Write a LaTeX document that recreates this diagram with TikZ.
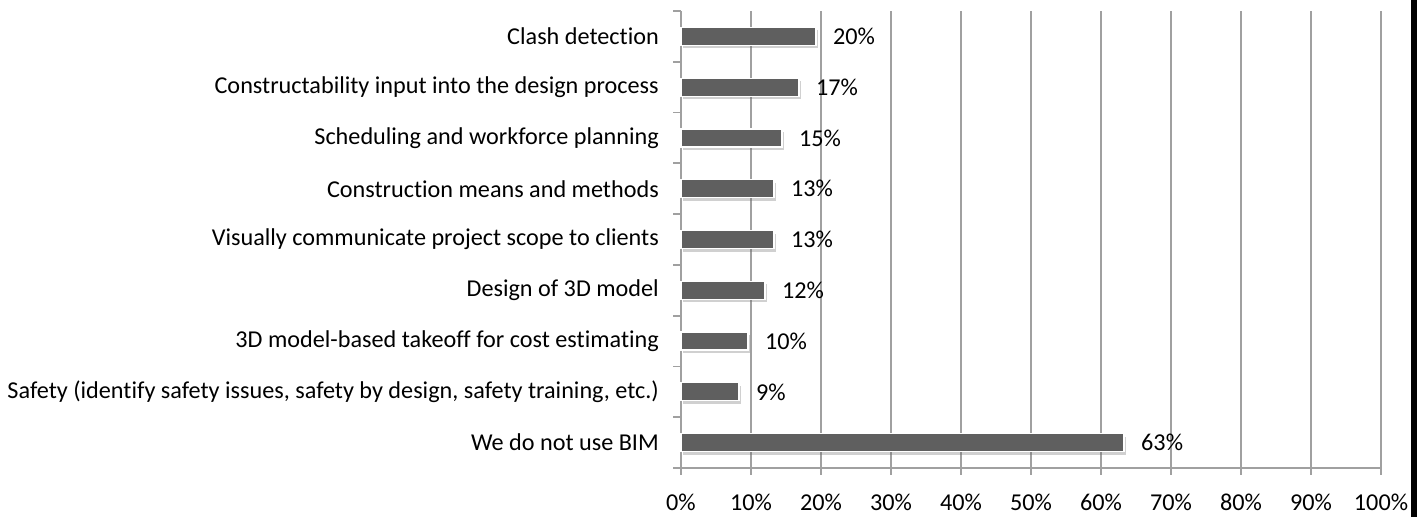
\documentclass[tikz,border=0pt]{standalone}
\usepackage{fontspec}
\setmainfont{Carlito}[Ligatures=NoCommon]
\usetikzlibrary{shadows}
\definecolor{barfill}{HTML}{5F5F5F}
\definecolor{gridgray}{HTML}{A0A0A0}
\tikzset{
  grid line/.style={draw=gridgray, line width=1.8pt},
  barbox/.style={fill=barfill, draw=white, line width=1.2pt,
     drop shadow={shadow xshift=2pt, shadow yshift=-3pt, opacity=0.3, fill=black!60}},
  catlabel/.style={anchor=east, inner sep=0pt, font=\fontsize{24.2}{28}\selectfont},
  vallabel/.style={anchor=west, inner sep=0pt, font=\fontsize{24.2}{28}\selectfont},
  ticklabel/.style={anchor=center, inner sep=0pt, font=\fontsize{24.2}{28}\selectfont},
}
\begin{document}
\begin{tikzpicture}[x=1pt,y=-1pt]
\useasboundingbox (0,0) rectangle (1427,517);
\fill[white] (0,0) rectangle (1427,517);
% gridlines
\foreach \k in {1,...,10}{
  \draw[grid line] ({681+70*\k},11) -- ({681+70*\k},475);
}
% axes
\draw[grid line] (681,11) -- (681,475);
\draw[grid line] (673,468) -- (1381,468);
\foreach \k in {0,...,8}{
  \draw[grid line] (673,{11+50.78*\k}) -- (681,{11+50.78*\k});
}
% tick labels
\foreach \k in {0,...,10}{
  \pgfmathtruncatemacro{\p}{10*\k}
  \node[ticklabel] (t\k) at ({681+70*\k},502) {\p\%};
}
% bars
\foreach \i/\e/\v/\lab in {
  0/816/20/{Clash detection},
  1/799/17/{Constructability input into the design process},
  2/782/15/{Scheduling and workforce planning},
  3/774/13/{Construction means and methods},
  4/774/13/{Visually communicate project scope to clients},
  5/765/12/{Design of 3D model},
  6/748/10/{3D model-based takeoff for cost estimating},
  7/739/9/{Safety (identify safety issues, safety by design, safety training, etc.)},
  8/1124/63/{We do not use BIM}}{
  \pgfmathsetmacro{\yc}{36.4+50.78*\i}
  \path[barbox] (681,\yc-9) rectangle (\e,\yc+9);
  \node[catlabel] (c\i) at (659,\yc) {\lab};
  \node[vallabel] (v\i) at (\e+17,\yc) {\v\%};
}
% black strip at right edge
\fill[black] (1410.5,0) rectangle (1417,517);
\end{tikzpicture}
\end{document}
